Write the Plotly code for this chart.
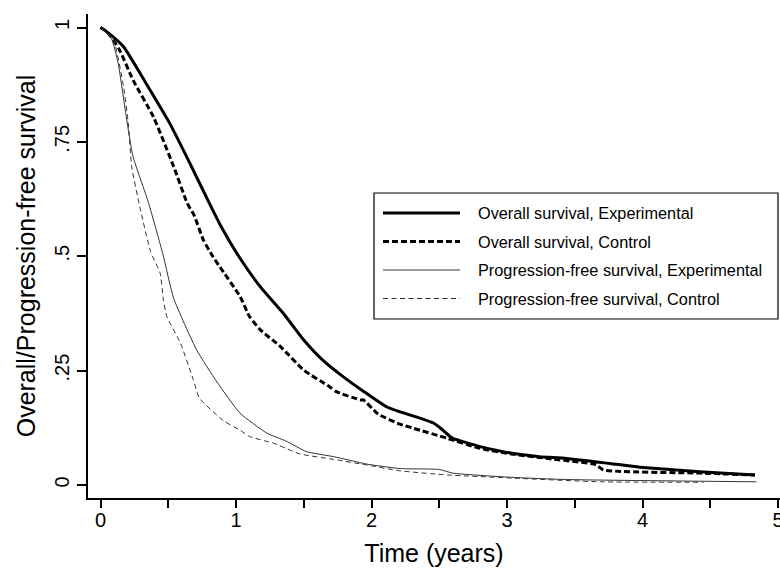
import plotly.graph_objects as go

# ---- data (time in years, survival probability) ----
os_exp_t = [0, 0.05, 0.17, 0.33, 0.51, 0.66, 0.78, 0.89, 1.02, 1.18, 1.35, 1.50, 1.64, 1.79,
            1.94, 2.11, 2.21, 2.33, 2.46, 2.51, 2.58, 2.60, 2.80, 2.97, 3.05, 3.24, 3.44,
            3.76, 3.98, 4.42, 4.83]
os_exp_s = [1, 0.99, 0.958, 0.881, 0.791, 0.703, 0.63, 0.565, 0.50, 0.433, 0.375, 0.317,
            0.273, 0.237, 0.205, 0.171, 0.160, 0.149, 0.135, 0.124, 0.106, 0.102, 0.084,
            0.073, 0.069, 0.062, 0.058, 0.047, 0.039, 0.029, 0.022]

os_ctl_t = [0, 0.05, 0.14, 0.24, 0.39, 0.54, 0.64, 0.69, 0.76, 0.83, 0.88, 1.03, 1.10, 1.18,
            1.33, 1.50, 1.69, 1.74, 1.92, 1.94, 2.04, 2.06, 2.21, 2.31, 2.56, 2.80, 3.03,
            3.30, 3.64, 3.66, 3.71, 4.42, 4.83]
os_ctl_s = [1, 0.99, 0.951, 0.885, 0.805, 0.696, 0.616, 0.590, 0.535, 0.499, 0.477, 0.412,
            0.368, 0.339, 0.302, 0.251, 0.215, 0.204, 0.186, 0.186, 0.157, 0.153, 0.133,
            0.124, 0.102, 0.080, 0.068, 0.058, 0.046, 0.044, 0.033, 0.026, 0.022]

pfs_exp_t = [0, 0.08, 0.13, 0.19, 0.24, 0.34, 0.37, 0.46, 0.54, 0.71, 0.86, 1.03, 1.23, 1.37,
             1.52, 1.72, 1.96, 2.21, 2.50, 2.60, 3.02, 3.44, 4.84]
pfs_exp_s = [1, 0.976, 0.922, 0.805, 0.718, 0.630, 0.601, 0.505, 0.408, 0.295, 0.225, 0.157,
             0.113, 0.096, 0.073, 0.062, 0.046, 0.036, 0.034, 0.026, 0.017, 0.012, 0.007]

pfs_ctl_t = [0, 0.095, 0.17, 0.205, 0.23, 0.29, 0.37, 0.44, 0.465, 0.49, 0.59, 0.685, 0.73,
             0.91, 1.03, 1.10, 1.28, 1.37, 1.47, 1.72, 1.96, 2.21, 2.56, 3.05, 3.69, 4.45]
pfs_ctl_s = [1, 0.973, 0.871, 0.791, 0.696, 0.608, 0.51, 0.463, 0.404, 0.368, 0.31, 0.23,
             0.19, 0.14, 0.12, 0.106, 0.091, 0.080, 0.068, 0.056, 0.044, 0.031, 0.022,
             0.015, 0.007, 0.006]

series_names = ["Overall survival, Experimental", "Overall survival, Control",
                "Progression-free survival, Experimental", "Progression-free survival, Control"]

x_tick_vals = [0, 0.5, 1, 1.5, 2, 2.5, 3, 3.5, 4, 4.5, 5]
x_tick_text = ["0", "", "1", "", "2", "", "3", "", "4", "", "5"]
y_tick_vals = [0, 0.25, 0.5, 0.75, 1]
y_tick_text = ["0", ".25", ".5", ".75", "1"]

# ---- styles ----
W, H = 780, 569
ML, MR, MT, MB = 88, 0, 14, 71
FONT = "Liberation Sans, Arial, sans-serif"
styles = [
    dict(color="black", width=3, dash="solid"),
    dict(color="black", width=3, dash="6px,3px"),
    dict(color="#333333", width=1, dash="solid"),
    dict(color="#333333", width=1, dash="5px,3.5px"),
]

fig = go.Figure()
for (t, s), name, st in zip([(os_exp_t, os_exp_s), (os_ctl_t, os_ctl_s),
                             (pfs_exp_t, pfs_exp_s), (pfs_ctl_t, pfs_ctl_s)],
                            series_names, styles):
    fig.add_trace(go.Scatter(x=t, y=s, mode="lines", name=name,
                             line=dict(st, shape="spline", smoothing=0.5),
                             showlegend=False, hoverinfo="x+y+name"))

# ---- manual Stata-style legend (pixel positions -> paper coords) ----
pw, ph = W - ML - MR, H - MT - MB
def px(x): return (x - ML) / pw
def py(y): return (H - MB - y) / ph

shapes = [dict(type="rect", xref="paper", yref="paper",
               x0=px(374), x1=px(778), y0=py(319), y1=py(193),
               line=dict(color="black", width=1.2), fillcolor="white", layer="above")]
annotations = []
row_y = [213, 241.5, 270, 298.5]
for yy, name, st in zip(row_y, series_names, styles):
    shapes.append(dict(type="line", xref="paper", yref="paper",
                       x0=px(383), x1=px(460), y0=py(yy), y1=py(yy),
                       line=st, layer="above"))
    annotations.append(dict(xref="paper", yref="paper", x=px(476), y=py(yy),
                            text=name, showarrow=False, xanchor="left", yanchor="middle",
                            font=dict(family=FONT, size=16.3, color="black")))

fig.update_layout(
    width=W, height=H,
    margin=dict(l=ML, r=MR, t=MT, b=MB, pad=0),
    paper_bgcolor="white", plot_bgcolor="white",
    font=dict(family=FONT, color="black"),
    shapes=shapes, annotations=annotations,
    showlegend=False,
)
fig.update_xaxes(
    range=[-0.0923, 5.0148], tickvals=x_tick_vals, ticktext=x_tick_text,
    ticks="outside", ticklen=8, tickwidth=1.5, tickcolor="black", ticklabelstandoff=-5,
    ticklabeloverflow="allow",
    showline=True, linecolor="black", linewidth=1.5, showgrid=False, zeroline=False,
    tickfont=dict(family=FONT, size=20),
    title=dict(text="Time (years)", font=dict(family=FONT, size=25), standoff=15),
    automargin=False,
)
fig.update_yaxes(
    range=[-0.0284, 1.0295], tickvals=y_tick_vals, ticktext=y_tick_text, tickangle=-90,
    ticks="outside", ticklen=9, tickwidth=1.5, tickcolor="black",
    showline=True, linecolor="black", linewidth=1.5, showgrid=False, zeroline=False,
    tickfont=dict(family=FONT, size=20),
    title=dict(text="Overall/Progression-free survival", font=dict(family=FONT, size=25),
               standoff=9),
    automargin=False,
)

fig.write_html("out.html", config={"displayModeBar": False},
               post_script="document.body.style.margin='0';document.body.style.padding='0';")
